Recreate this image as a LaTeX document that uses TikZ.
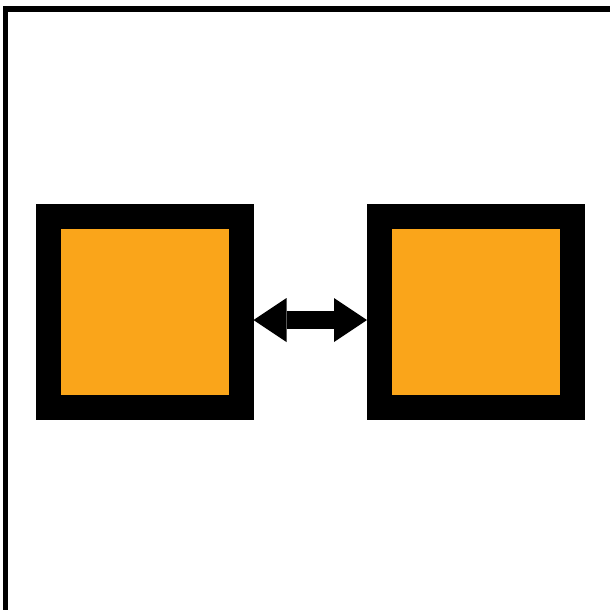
\documentclass[tikz,border=0pt]{standalone}
\usetikzlibrary{arrows.meta}
\definecolor{boxorange}{RGB}{250,165,26}
\begin{document}
\begin{tikzpicture}[x=1pt,y=-1pt,
  framebox/.style={draw=black,line width=25pt,fill=boxorange,inner sep=0pt,
    minimum width=193pt,minimum height=191pt},
  bigarrow/.style={draw=black,line width=18pt,
    {Triangle[length=33pt,width=44pt,line width=0pt]}-{Triangle[length=33pt,width=44pt,line width=0pt]}}]
\useasboundingbox (0,0) rectangle (610,610);
\fill[white] (0,0) rectangle (610,610);
% outer frame (top and left edges only)
\fill[black] (3,6) rectangle (610,12);
\fill[black] (3,6) rectangle (8,610);
% boxes
\node[framebox] (a) at (144.5,312) {};
\node[framebox] (b) at (476,312) {};
% double arrow
\draw[bigarrow] ([yshift=-8pt]a.east) -- ([yshift=-8pt]b.west);
\end{tikzpicture}
\end{document}
